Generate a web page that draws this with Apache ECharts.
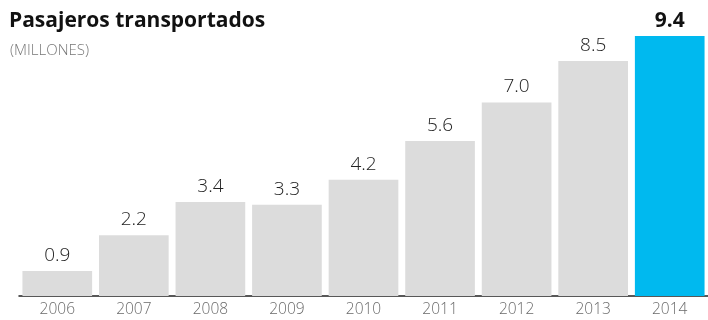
<!DOCTYPE html>
<html><head><meta charset="utf-8">
<script src="https://cdn.jsdelivr.net/npm/echarts@6/dist/echarts.min.js"></script>
<style>html,body{margin:0;padding:0;background:#fff}#c{width:708px;height:320px}</style>
</head><body><div id="c"></div>
<script>
const years = ['2006','2007','2008','2009','2010','2011','2012','2013','2014'];
const values = [0.9, 2.2, 3.4, 3.3, 4.2, 5.6, 7.0, 8.5, 9.4];
const titleText = 'Pasajeros transportados';
const subtitleText = '(MILLONES)';
const lastIdx = values.length - 1;
const chart = echarts.init(document.getElementById('c'), null, {renderer:'canvas'});
chart.setOption({
  animation:false,
  backgroundColor:'#fff',
  title:[
    {text:titleText,left:4,top:6,textStyle:{fontFamily:'Open Sans',fontWeight:'bold',fontSize:21,color:'#111'}},
    {text:subtitleText,left:5,top:38,textStyle:{fontFamily:'Open Sans',fontWeight:300,fontSize:15,color:'#777'}}
  ],
  grid:{left:19,right:-2,top:19.4,bottom:24,containLabel:false},
  xAxis:{type:'category',data:years,
    axisLine:{show:true,lineStyle:{color:'#222',width:1.5}},
    axisTick:{show:false},
    axisLabel:{color:'#6a6a6a',fontFamily:'Open Sans',fontWeight:300,fontSize:15.5,margin:6}},
  yAxis:{type:'value',min:0,max:10,show:false,splitLine:{show:false}},
  series:[{type:'bar',barCategoryGap:'9%',
    data:values.map((v,i)=>({value:v,
      itemStyle:{color:i===lastIdx?'#00b9ef':'#dcdcdc'},
      label:i===lastIdx?{fontWeight:'bold',fontSize:21,color:'#111',distance:4}:{}})),
    label:{show:true,position:'top',distance:6,fontFamily:'Open Sans',fontWeight:300,fontSize:19,color:'#222',
      formatter:p=>p.value.toFixed(1)}}]
});
</script></body></html>
